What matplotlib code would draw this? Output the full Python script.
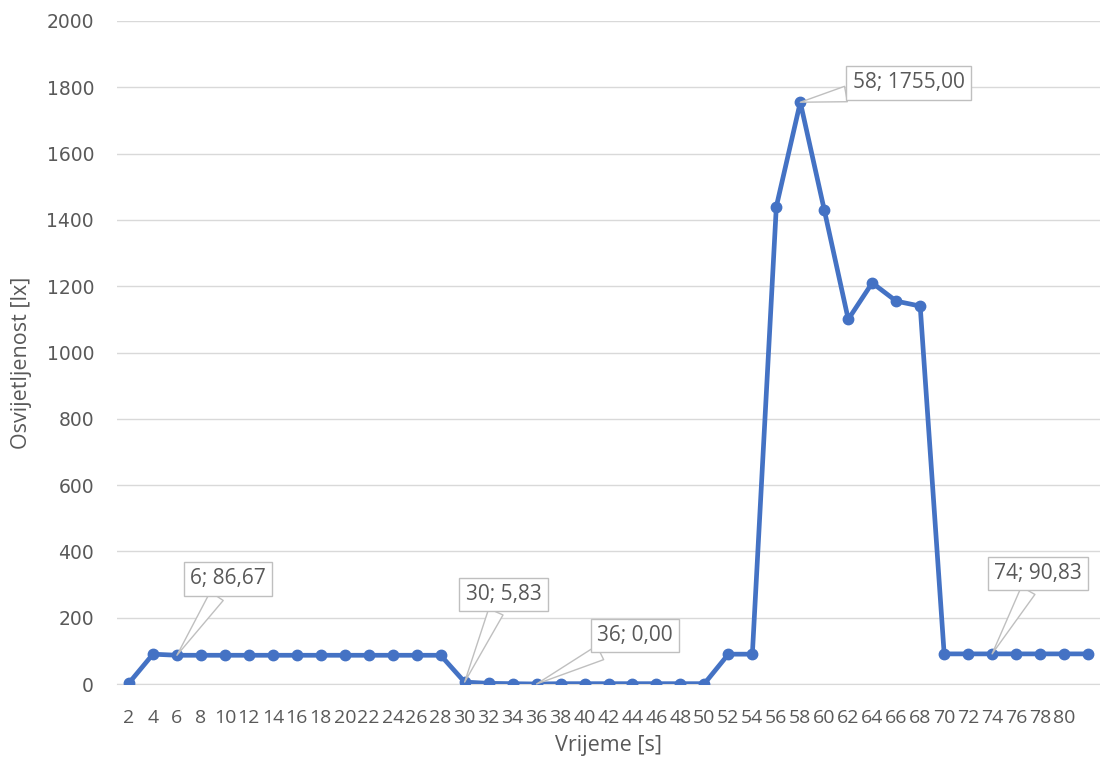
import numpy as np
import matplotlib
matplotlib.use('Agg')
import matplotlib.pyplot as plt

# vrijeme (s) i osvijetljenost (lx)
vrijeme = [2, 4, 6, 8, 10, 12, 14, 16, 18, 20, 22, 24, 26, 28,
           30, 32, 34, 36, 38, 40, 42, 44, 46, 48, 50,
           52, 54, 56, 58, 60, 62, 64, 66, 68,
           70, 72, 74, 76, 78, 80, 82]
osvijetljenost = [3, 90, 86.67, 86.67, 86.67, 86.67, 86.67, 86.67, 86.67, 86.67, 86.67, 86.67, 86.67, 86.67,
                  5.83, 2, 1, 0.00, 1, 1, 1, 1, 1, 1, 1,
                  90, 90, 1440, 1755.00, 1430, 1100, 1210, 1155, 1140,
                  90.83, 90.83, 90.83, 90.83, 90.83, 90.83, 90.83]
x_labels = [str(v) for v in vrijeme[:-1]] + ['']

# oznake podataka (indeks tocke, pomak kucice u tockama)
oznake = [(2, (37, 55)), (14, (28, 63)), (17, (71, 35)), (28, (78, 14)), (36, (33, 58))]

plt.rcParams['font.family'] = ['Open Sans', 'DejaVu Sans']

fig = plt.figure(figsize=(11, 7.69), dpi=100)
ax = fig.add_axes([117/1100, 1 - 684/769, 983/1100, 663/769])

x = np.arange(len(vrijeme))
ax.plot(x, osvijetljenost, color='#4472C4', lw=3.4, marker='o', ms=7.5, zorder=3,
        solid_joinstyle='round')

ax.set_xlim(-0.5, len(vrijeme) - 0.5)
ax.set_ylim(0, 2000)
ax.set_yticks(np.arange(0, 2001, 200))
ax.set_xticks(x)
ax.set_xticklabels(x_labels, fontsize=14)
for lbl in ax.get_yticklabels():
    lbl.set_family('DejaVu Sans')
    lbl.set_fontsize(13.5)
ax.grid(axis='y', color='#d9d9d9', lw=1)
ax.set_axisbelow(True)
for s in ['top', 'right', 'left']:
    ax.spines[s].set_visible(False)
ax.spines['bottom'].set_color('#d9d9d9')
ax.tick_params(axis='both', length=0, colors='#595959')
ax.tick_params(axis='x', pad=18)
ax.tick_params(axis='y', pad=16.5)

ax.set_xlabel('Vrijeme [s]', fontsize=15.5, color='#595959', labelpad=6)
ax.set_ylabel('Osvijetljenost [lx]', fontsize=15.5, color='#595959')
ax.yaxis.set_label_coords(-0.086, 0.484)

for i, off in oznake:
    txt = '%d; %s' % (vrijeme[i], ('%.2f' % osvijetljenost[i]).replace('.', ','))
    ax.annotate(txt, xy=(x[i], osvijetljenost[i]), xytext=off, textcoords='offset points',
                ha='center', va='center', fontsize=15, color='#595959', zorder=5,
                bbox=dict(boxstyle='square,pad=0.3', fc='white', ec='#bfbfbf', lw=1),
                arrowprops=dict(arrowstyle='wedge,tail_width=0.75,shrink_factor=0.5',
                                fc='white', ec='#bfbfbf', lw=1, shrinkA=0, shrinkB=0))

plt.savefig('out.png', dpi=100)
